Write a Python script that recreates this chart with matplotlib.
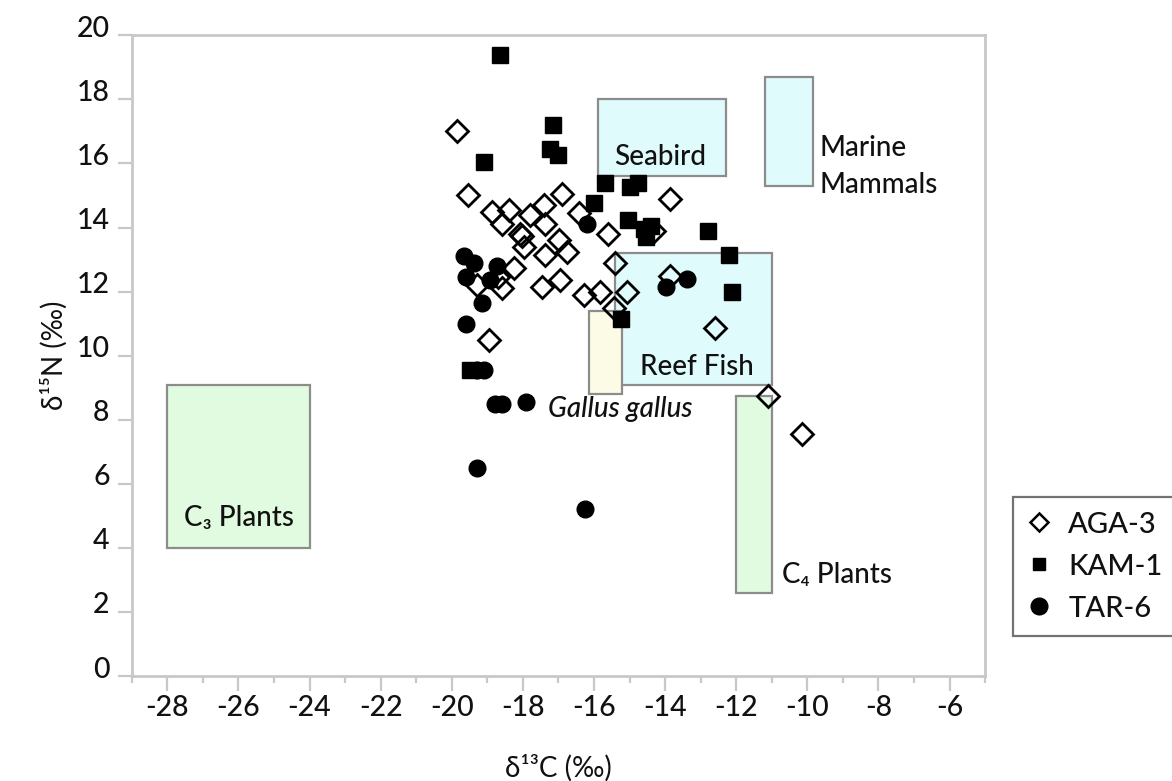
import matplotlib
matplotlib.use("Agg")
import matplotlib.pyplot as plt
from matplotlib.patches import Rectangle
from matplotlib.lines import Line2D
from matplotlib.ticker import MultipleLocator
from matplotlib.transforms import ScaledTranslation

plt.rcParams['font.family'] = ['Lato', 'DejaVu Sans']
plt.rcParams['font.weight'] = 500
plt.rcParams['axes.unicode_minus'] = False

# --- isotope values (d13C, d15N) per site ---
aga_x = [-19.85, -19.55, -18.86, -18.40, -17.80, -17.40, -16.90, -16.43, -17.37, -18.58,
         -18.07, -18.02, -17.97, -17.37, -16.99, -16.76, -18.26, -18.58, -19.28, -17.46,
         -16.95, -16.29, -15.82, -15.40, -15.07, -15.45, -15.60, -13.86, -14.30, -13.86,
         -12.60, -18.96, -11.10, -10.15, -18.70]
aga_y = [17.00, 15.00, 14.50, 14.55, 14.40, 14.70, 15.05, 14.45, 14.10, 14.10,
         13.80, 13.75, 13.40, 13.15, 13.60, 13.25, 12.75, 12.10, 12.20, 12.15,
         12.35, 11.90, 12.00, 12.90, 12.00, 11.50, 13.80, 14.90, 13.90, 12.50,
         10.85, 10.50, 8.75, 7.55, 12.45]

kam_x = [-18.65, -17.15, -17.25, -17.00, -19.10, -15.70, -14.98, -14.75, -16.00, -15.03,
         -14.60, -14.40, -14.55, -12.80, -12.20, -12.13, -15.25, -19.50]
kam_y = [19.40, 17.20, 16.45, 16.25, 16.05, 15.40, 15.25, 15.40, 14.75, 14.25,
         13.95, 14.05, 13.70, 13.90, 13.15, 12.00, 11.15, 9.55]

tar_x = [-19.65, -19.38, -19.60, -18.72, -18.91, -19.14, -19.60, -16.20, -13.98, -13.39,
         -18.78, -18.60, -17.90, -19.30, -16.24, -19.30, -19.10]
tar_y = [13.10, 12.90, 12.45, 12.80, 12.35, 11.65, 11.00, 14.10, 12.15, 12.40,
         8.50, 8.50, 8.55, 6.50, 5.20, 9.55, 9.55]

site_labels = ["AGA-3", "KAM-1", "TAR-6"]

# --- reference food-source ranges ---
source_names = ["C3 Plants", "C4 Plants", "Seabird", "Marine Mammals", "Reef Fish", "Gallus gallus"]
source_x = [(-28.0, -24.0), (-12.0, -11.0), (-15.9, -12.3), (-11.2, -9.85), (-15.4, -11.0), (-16.15, -15.2)]
source_y = [(4.0, 9.1), (2.6, 8.75), (15.6, 18.0), (15.3, 18.7), (9.1, 13.2), (8.8, 11.4)]

GREEN = "#e0fbe0"
CYAN = "#dffbfb"
CREAM = "#fcfce6"
source_fill = [GREEN, GREEN, CYAN, CYAN, CYAN, CREAM]

TXT = "#111111"

fig = plt.figure(figsize=(11.72, 7.81), dpi=100)
ax = fig.add_axes([0.1124, 0.1344, 0.7281, 0.8204])

for (x0, x1), (y0, y1), fc in zip(source_x, source_y, source_fill):
    ax.add_patch(Rectangle((x0, y0), x1 - x0, y1 - y0, facecolor=fc,
                           edgecolor="#8c8c8c", linewidth=1.6, zorder=1))

FS = 20
ax.text(-25.98, 4.93, "C\u2083 Plants", ha="center", va="center", fontsize=FS, color=TXT, zorder=2)
ax.text(-10.72, 3.15, "C\u2084 Plants", ha="left", va="center", fontsize=FS, color=TXT, zorder=2)
ax.text(-14.14, 16.19, "Seabird", ha="center", va="center", fontsize=FS, color=TXT, zorder=2)
ax.text(-9.65, 15.9, "Marine\nMammals", ha="left", va="center", fontsize=FS, color=TXT,
        linespacing=1.5, zorder=2)
ax.text(-13.1, 9.64, "Reef Fish", ha="center", va="center", fontsize=FS, color=TXT, zorder=2)
ax.text(-17.28, 8.33, "Gallus gallus", ha="left", va="center", fontsize=FS, color=TXT,
        style="italic", zorder=2)

ax.plot(aga_x, aga_y, linestyle="none", marker="D", markersize=11.5,
        markerfacecolor="none", markeredgecolor="black", markeredgewidth=2.0, zorder=3)
ax.plot(kam_x, kam_y, linestyle="none", marker="s", markersize=11.5,
        color="black", zorder=4)
ax.plot(tar_x, tar_y, linestyle="none", marker="o", markersize=12,
        color="black", zorder=5)

ax.set_xlim(-29, -5)
ax.set_ylim(0, 20)
ax.xaxis.set_minor_locator(MultipleLocator(1))
ax.yaxis.set_major_locator(MultipleLocator(2))
ax.set_xticks(range(-28, -5, 2))

SPINE = "#c8c8c8"
for sp in ax.spines.values():
    sp.set_color(SPINE)
    sp.set_linewidth(2)

ax.tick_params(axis="x", which="major", length=11, width=1.6, color=SPINE,
               pad=3, labelsize=20.5, labelcolor=TXT)
ax.tick_params(axis="x", which="minor", length=5, width=1.6, color=SPINE)
ax.tick_params(axis="y", which="major", length=10, width=1.6, color=SPINE,
               pad=6, labelsize=20.5, labelcolor=TXT)

# lift y tick labels a little above their ticks
for lab in ax.get_yticklabels():
    lab.set_transform(lab.get_transform() + ScaledTranslation(0, 0.09, fig.dpi_scale_trans))

ax.set_xlabel("\u03b4\u00b9\u00b3C (\u2030)", fontsize=20, color=TXT, labelpad=24)
ax.set_ylabel("\u03b4\u00b9\u2075N (\u2030)", fontsize=20, color=TXT, labelpad=6)

handles = [
    Line2D([], [], linestyle="none", marker="D", markersize=9.5, markerfacecolor="none",
           markeredgecolor="black", markeredgewidth=1.8),
    Line2D([], [], linestyle="none", marker="s", markersize=8.5, color="black"),
    Line2D([], [], linestyle="none", marker="o", markersize=12, color="black"),
]
leg = fig.legend(handles, site_labels, loc="upper left",
                 bbox_to_anchor=(1013 / 1172, 1 - 497 / 781),
                 fontsize=21, frameon=True, fancybox=False, borderaxespad=0,
                 borderpad=0.5, handlelength=0.8, handletextpad=0.6,
                 labelspacing=0.55)
leg.get_frame().set_edgecolor("#505050")
leg.get_frame().set_linewidth(1.6)
for t in leg.get_texts():
    t.set_color(TXT)

fig.savefig("out.png", dpi=100)
